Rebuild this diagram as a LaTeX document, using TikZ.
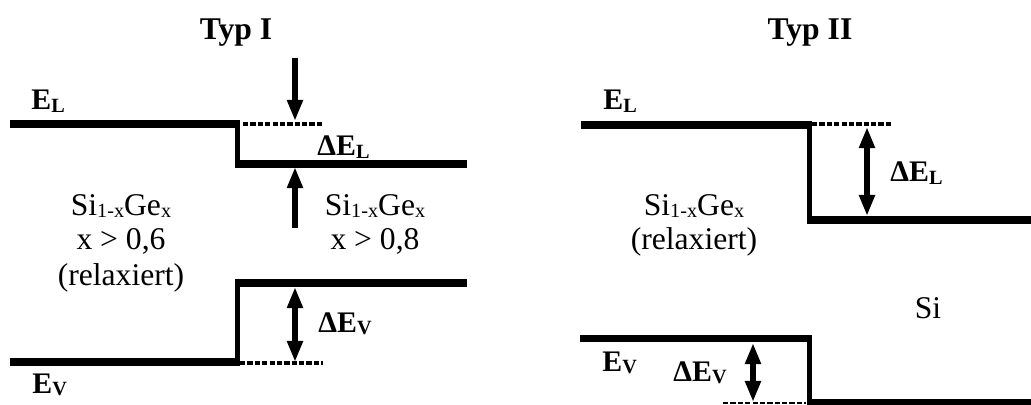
\documentclass[tikz,border=0pt]{standalone}
\usepackage{fontspec}
\setmainfont{Liberation Serif}
\usepackage{tikz}
\usetikzlibrary{arrows.meta, positioning}
\newcommand{\idx}[1]{\raisebox{-1.2pt}{\fontsize{11.5}{12}\selectfont #1}}
\tikzset{
	band/.style={line width=4.5pt, black},
	stepline/.style={line width=2.8pt, black},
	dotline/.style={line width=2pt, dash pattern=on 3pt off 1.2pt},
	arr/.style={line width=3pt, -{Triangle[length=12pt, width=8.5pt]}},
	dblarr/.style={line width=3pt, {Triangle[length=12pt, width=8.5pt]}-{Triangle[length=12pt, width=8.5pt]}},
	title/.style={font=\fontsize{18}{20}\selectfont\bfseries, inner sep=0pt, anchor=base},
	elab/.style={font=\fontsize{17}{20}\selectfont\bfseries, inner sep=0pt, anchor=base west},
	txt/.style={font=\fontsize{18}{20}\selectfont, inner sep=0pt, anchor=base}
}

\begin{document}
\begin{tikzpicture}[x=0.02cm, y=-0.02cm]
	\useasboundingbox (0,0) rectangle (1031,405);

	% Typ I
	\node (typA) [title] at (236,40) {Typ I};
	\draw [band] (10,124) -- (240,124);
	\draw [stepline] (237.5,124) -- (237.5,164);
	\draw [band] (235,164) -- (467,164);
	\draw [dotline] (243,124) -- (322,124);
	\draw [band] (235,283) -- (467,283);
	\draw [stepline] (237.5,283) -- (237.5,362);
	\draw [band] (10,362) -- (240,362);
	\draw [dotline] (240,363) -- (323,363);

	\coordinate (dnTop) at (295,58);
	\coordinate (dnTip) at (295,121);
	\coordinate (upBot) at (295,228);
	\coordinate (upTip) at (295,167);
	\coordinate (evTopA) at (295,287);
	\coordinate (evBotA) at (295,362);
	\draw [arr] (dnTop) -- (dnTip);
	\draw [arr] (upBot) -- (upTip);
	\draw [dblarr] (evBotA) -- (evTopA);

	\node (elA) [elab] at (31,110) {E\idx{L}};
	\node (delA) [elab] at (317,156) {ΔE\idx{L}};
	\node (devA) [elab] at (318,332) {ΔE\idx{V}};
	\node (evA) [elab] at (32,393) {E\idx{V}};

	\node (sgA1) [txt] at (121,215) {Si\idx{1-x}Ge\idx{x}};
	\node (sgA2) [txt] at (121,250) {x > 0,6};
	\node (sgA3) [txt] at (121,285) {(relaxiert)};
	\node (sgB1) [txt] at (375,215) {Si\idx{1-x}Ge\idx{x}};
	\node (sgB2) [txt] at (375,250) {x > 0,8};

	% Typ II
	\node (typB) [title] at (810,40) {Typ II};
	\draw [band] (581,125) -- (812,125);
	\draw [stepline] (809.5,125) -- (809.5,220);
	\draw [band] (807,220) -- (1031,220);
	\draw [dotline] (812,124) -- (892,124);
	\draw [band] (580,338.5) -- (812,338.5);
	\draw [stepline] (809.5,338.5) -- (809.5,403);
	\draw [band] (807,403) -- (1031,403);
	\draw [dotline, line width=1.4pt] (723,403) -- (806,403);

	\coordinate (elTopB) at (867,127);
	\coordinate (elBotB) at (867,216);
	\coordinate (evTopB) at (753,343);
	\coordinate (evBotB) at (753,402);
	\draw [dblarr] (elBotB) -- (elTopB);
	\draw [dblarr] (evBotB) -- (evTopB);

	\node (elB) [elab] at (603,110) {E\idx{L}};
	\node (delB) [elab] at (890,182) {ΔE\idx{L}};
	\node (evB) [elab] at (602,371) {E\idx{V}};
	\node (devB) [elab] at (673,381) {ΔE\idx{V}};

	\node (sgC1) [txt] at (694,215) {Si\idx{1-x}Ge\idx{x}};
	\node (sgC2) [txt] at (694,250) {(relaxiert)};
	\node (si) [txt] at (928,318) {Si};
\end{tikzpicture}
\end{document}
